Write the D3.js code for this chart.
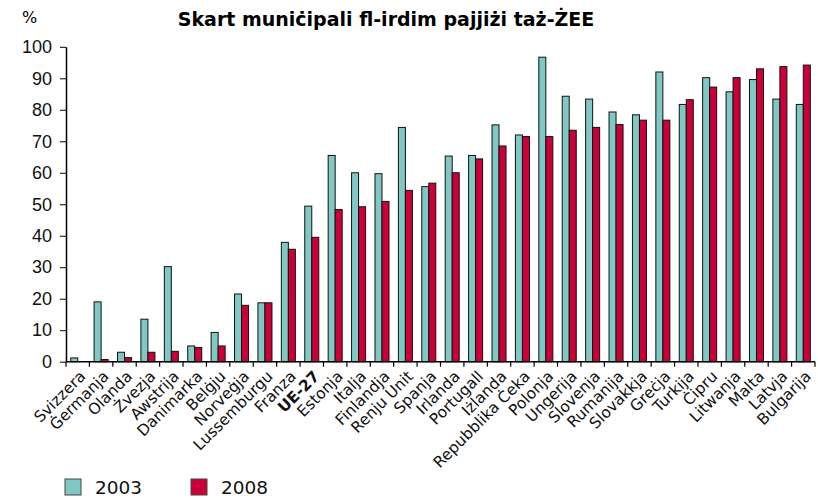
<!DOCTYPE html>
<html>
<head>
<meta charset="utf-8">
<script src="https://cdn.jsdelivr.net/npm/d3@7"></script>
<style>
  body { margin: 0; background: #fff; }
  svg { font-family: "DejaVu Sans", Verdana, sans-serif; }
</style>
</head>
<body>
<svg id="chart" width="818" height="498"></svg>
<script>
"use strict";

// --- data ---
const countries = ["Svizzera", "Ġermanja", "Olanda", "Żvezja", "Awstrija", "Danimarka", "Belġju",
    "Norveġja", "Lussemburgu", "Franza", "UE-27", "Estonja", "Italja", "Finlandja", "Renju Unit",
    "Spanja", "Irlanda", "Portugall", "Iżlanda", "Repubblika Ċeka", "Polonja", "Ungerija",
    "Slovenja", "Rumanija", "Slovakkja", "Greċja", "Turkija", "Ċipru", "Litwanja", "Malta",
    "Latvja", "Bulgarija"]
const values2003 = [1.2, 19.0, 3.0, 13.5, 30.2, 5.0, 9.3, 21.5, 18.7, 37.9, 49.4, 65.5, 60.0, 59.7,
    74.4, 55.6, 65.3, 65.5, 75.2, 72.0, 96.7, 84.3, 83.4, 79.3, 78.4, 92.0, 81.7, 90.2, 85.7,
    89.6, 83.4, 81.7]
const values2008 = [0, 0.7, 1.3, 3.0, 3.3, 4.5, 5.0, 17.9, 18.7, 35.7, 39.5, 48.3, 49.2, 50.9,
    54.4, 56.7, 60.0, 64.4, 68.5, 71.5, 71.5, 73.5, 74.4, 75.3, 76.7, 76.7, 83.2, 87.2, 90.2,
    93.0, 93.7, 94.2]
const seriesNames = ["2003", "2008"]
const yTicks = [0, 10, 20, 30, 40, 50, 60, 70, 80, 90, 100]
const title = "Skart muniċipali fl-irdim pajjiżi taż-ŻEE"

const colors = { "2003": "#80c8c4", "2008": "#cc0038" }

// --- layout ---
const margin = { left: 66, right: 3, top: 46.8, bottom: 136.3 }
const width = 818, height = 498
const svg = d3.select("#chart")

const x = d3.scaleBand()
    .domain(countries)
    .range([margin.left, width - margin.right])
    .paddingInner(0)
    .paddingOuter(0)

const inner = d3.scaleBand()
    .domain(seriesNames)
    .range([0, x.bandwidth()])
    .paddingOuter(0.67)
    .paddingInner(0)

const y = d3.scaleLinear()
    .domain([0, 100])
    .range([height - margin.bottom, margin.top])

// title and unit
svg.append("text")
    .attr("x", 386).attr("y", 26)
    .attr("text-anchor", "middle")
    .style("font-size", "19px")
    .style("font-weight", "bold")
    .text(title)

svg.append("text")
    .attr("x", 22).attr("y", 23)
    .style("font-size", "16px")
    .text("%")

// bars
const rows = countries.map((c, i) => ({ country: c, vals: [
    { key: "2003", v: values2003[i] },
    { key: "2008", v: values2008[i] }
]}))

const groups = svg.append("g")
    .selectAll("g")
    .data(rows)
    .join("g")
    .attr("transform", d => `translate(${x(d.country)},0)`)

groups.selectAll("rect")
    .data(d => d.vals.filter(e => e.v > 0))
    .join("rect")
    .attr("x", d => inner(d.key))
    .attr("y", d => y(d.v))
    .attr("width", inner.bandwidth())
    .attr("height", d => y(0) - y(d.v))
    .attr("fill", d => colors[d.key])
    .attr("stroke", "#111")
    .attr("stroke-width", 1)

// y axis
const yAxis = svg.append("g")
    .attr("transform", `translate(${margin.left},0)`)
    .call(d3.axisLeft(y).tickValues(yTicks).tickSize(6).tickSizeOuter(0).tickPadding(8))
yAxis.select(".domain").attr("stroke", "#000").attr("stroke-width", 1.5)
yAxis.selectAll("text").style("font-size", "18px").attr("fill", "#111")

// x axis: ticks on band boundaries
const xAxisG = svg.append("g")
    .attr("transform", `translate(0,${y(0)})`)
xAxisG.append("line")
    .attr("x1", margin.left).attr("x2", width - margin.right)
    .attr("stroke", "#000").attr("stroke-width", 1.5)
const bounds = countries.map(c => x(c)).concat([x(countries[countries.length - 1]) + x.bandwidth()])
xAxisG.selectAll("line.tick")
    .data(bounds)
    .join("line")
    .attr("class", "tick")
    .attr("x1", d => d).attr("x2", d => d)
    .attr("y1", 0).attr("y2", 5)
    .attr("stroke", "#000").attr("stroke-width", 1.2)

xAxisG.selectAll("text")
    .data(countries)
    .join("text")
    .attr("transform", d => `translate(${x(d) + x.bandwidth() / 2 + 1},8) rotate(-45)`)
    .attr("text-anchor", "end")
    .attr("dy", "0.7em")
    .style("font-size", "15.5px")
    .style("font-weight", d => d === "UE-27" ? "bold" : "normal")
    .attr("fill", "#111")
    .text(d => d)

// legend
const legend = svg.append("g")
    .selectAll("g")
    .data(seriesNames)
    .join("g")
    .attr("transform", (d, i) => `translate(${65 + i * 126},479)`)
legend.append("rect")
    .attr("width", 16).attr("height", 16)
    .attr("fill", d => colors[d])
    .attr("stroke", "#444").attr("stroke-width", 1)
legend.append("text")
    .attr("x", 30).attr("y", 14.5)
    .style("font-size", "18.5px")
    .attr("fill", "#111")
    .text(d => d)
</script>
</body>
</html>
